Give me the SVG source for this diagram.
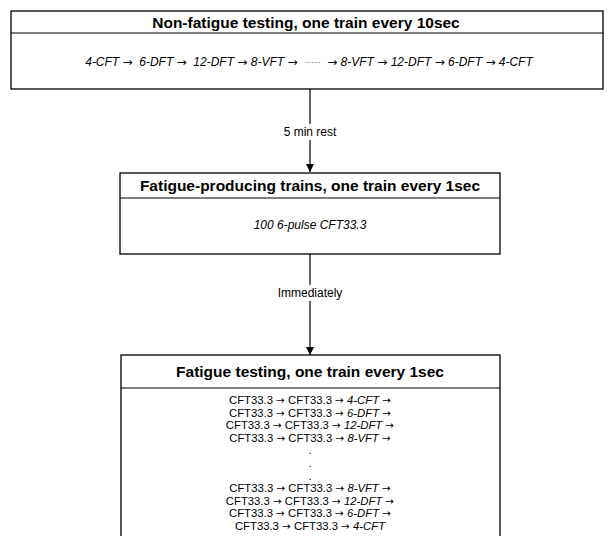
<svg xmlns="http://www.w3.org/2000/svg" width="610" height="536" viewBox="0 0 610 536">
<style>
  .box{fill:#fff;stroke:#000;stroke-width:1.3}
  .div{stroke:#000;stroke-width:1.2}
  .title{font-family:"Liberation Sans",Arial,sans-serif;font-weight:bold;font-size:15.5px;text-anchor:middle;dominant-baseline:central}
  .txt{font-family:"Liberation Sans",Arial,sans-serif;font-size:12px;text-anchor:middle;dominant-baseline:central}
  .pre{white-space:pre}
  .sm{font-size:11.3px}
  .it{font-style:italic}
  .ar{font-family:"DejaVu Sans",sans-serif;font-style:normal;font-size:12px}
  .ars{font-family:"DejaVu Sans",sans-serif;font-style:normal;font-size:10.5px}
  .conn{stroke:#000;stroke-width:1.2;fill:none}
  .lbg{fill:#fff}
</style>
<defs>
  <marker id="ah" viewBox="0 0 10 10" refX="10" refY="5" markerWidth="8" markerHeight="9" markerUnits="userSpaceOnUse" orient="auto">
    <path d="M0,0 L10,5 L0,10 z" fill="#000"/>
  </marker>
</defs>
<rect width="610" height="536" fill="#fff"/>

<g id="connectors">
  <line class="conn" x1="310" y1="89" x2="310" y2="172" marker-end="url(#ah)"/>
  <rect class="lbg" x="280" y="124" width="60" height="16"/>
  <text class="txt" x="310" y="132">5 min rest</text>
  <line class="conn" x1="310" y1="254" x2="310" y2="355" marker-end="url(#ah)"/>
  <rect class="lbg" x="276" y="285" width="68" height="16"/>
  <text class="txt" x="310" y="293">Immediately</text>
</g>

<g id="node-nonfatigue">
  <rect class="box" x="11" y="11" width="592" height="78"/>
  <line class="div" x1="11" y1="33" x2="603" y2="33"/>
  <text class="title" x="306" y="22">Non-fatigue testing, one train every 10sec</text>
  <text class="txt it pre" x="309" y="62">4-CFT <tspan class="ar">→</tspan>  6-DFT <tspan class="ar">→</tspan>  12-DFT <tspan class="ar">→</tspan> 8-VFT <tspan class="ar">→</tspan>  <tspan font-size="7" font-style="normal">·······</tspan>  <tspan class="ar">→</tspan> 8-VFT <tspan class="ar">→</tspan> 12-DFT <tspan class="ar">→</tspan> 6-DFT <tspan class="ar">→</tspan> 4-CFT</text>
</g>

<g id="node-fatigue-producing">
  <rect class="box" x="120" y="173" width="380" height="81"/>
  <line class="div" x1="120" y1="198" x2="500" y2="198"/>
  <text class="title" x="310" y="185" font-size="15">Fatigue-producing trains, one train every 1sec</text>
  <text class="txt it" x="310" y="225">100 6-pulse CFT33.3</text>
</g>

<g id="node-fatigue-testing">
  <rect class="box" x="121" y="355" width="379" height="200"/>
  <line class="div" x1="121" y1="388" x2="500" y2="388"/>
  <text class="title" x="310" y="371">Fatigue testing, one train every 1sec</text>
  <text class="txt sm" x="310" y="400">CFT33.3 <tspan class="ars">→</tspan> CFT33.3 <tspan class="ars">→</tspan> <tspan class="it">4-CFT</tspan> <tspan class="ars">→</tspan></text>
  <text class="txt sm" x="310" y="412.6">CFT33.3 <tspan class="ars">→</tspan> CFT33.3 <tspan class="ars">→</tspan> <tspan class="it">6-DFT</tspan> <tspan class="ars">→</tspan></text>
  <text class="txt sm" x="310" y="425.2">CFT33.3 <tspan class="ars">→</tspan> CFT33.3 <tspan class="ars">→</tspan> <tspan class="it">12-DFT</tspan> <tspan class="ars">→</tspan></text>
  <text class="txt sm" x="310" y="437.8">CFT33.3 <tspan class="ars">→</tspan> CFT33.3 <tspan class="ars">→</tspan> <tspan class="it">8-VFT</tspan> <tspan class="ars">→</tspan></text>
  <text class="txt sm" x="310" y="450.4">.</text>
  <text class="txt sm" x="310" y="463">.</text>
  <text class="txt sm" x="310" y="475.6">.</text>
  <text class="txt sm" x="310" y="488.2">CFT33.3 <tspan class="ars">→</tspan> CFT33.3 <tspan class="ars">→</tspan> <tspan class="it">8-VFT</tspan> <tspan class="ars">→</tspan></text>
  <text class="txt sm" x="310" y="500.8">CFT33.3 <tspan class="ars">→</tspan> CFT33.3 <tspan class="ars">→</tspan> <tspan class="it">12-DFT</tspan> <tspan class="ars">→</tspan></text>
  <text class="txt sm" x="310" y="513.4">CFT33.3 <tspan class="ars">→</tspan> CFT33.3 <tspan class="ars">→</tspan> <tspan class="it">6-DFT</tspan> <tspan class="ars">→</tspan></text>
  <text class="txt sm" x="310" y="526">CFT33.3 <tspan class="ars">→</tspan> CFT33.3 <tspan class="ars">→</tspan> <tspan class="it">4-CFT</tspan></text>
</g>
</svg>
